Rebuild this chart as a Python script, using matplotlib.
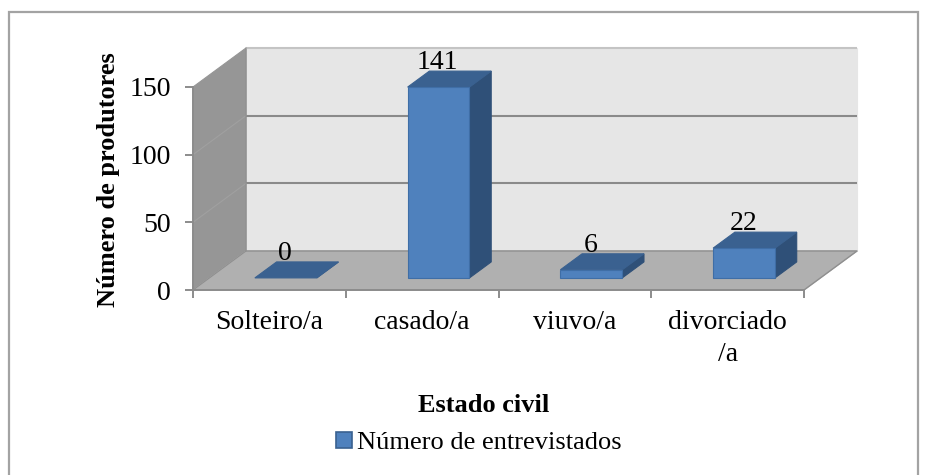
import matplotlib
matplotlib.use('Agg')
import matplotlib.pyplot as plt
from matplotlib.patches import Patch, Rectangle

# Data
categories = ['Solteiro/a', 'casado/a', 'viuvo/a', 'divorciado\n/a']
values = [0, 141, 6, 22]
y_ticks = [0, 50, 100, 150]
series_name = 'Número de entrevistados'

W, H = 927, 475
plt.rcParams['font.family'] = ['Liberation Serif', 'DejaVu Serif']

fig = plt.figure(figsize=(W / 100, H / 100), dpi=100)
fig.patches.append(Rectangle((9 / W, -0.05), 909 / W, 1.05 - 12 / H, transform=fig.transFigure,
                             facecolor='white', edgecolor='#a3a3a3', linewidth=1.6, zorder=-1))

# The axes is the front plane of the fake 3D box
ax = fig.add_axes([193 / W, (H - 290) / H, 611 / W, 203 / H])
ax.set_xlim(0, len(categories))
ax.set_ylim(0, 150)
ax.patch.set_visible(False)

# Depth of the box, in data units
DX = 53 / (611 / 4)
DY = 39 / (203 / 150)


def proj(x, y, d):
    return x + d * DX, y + d * DY


def face(points, color, edge=None, z=1):
    xs, ys = zip(*[proj(*p) for p in points])
    ax.fill(xs, ys, facecolor=color, edgecolor=edge if edge else color, linewidth=0.8,
            clip_on=False, zorder=z)


n = len(categories)
top = y_ticks[-1]

# Walls and floor
face([(0, 0, 1), (n, 0, 1), (n, top, 1), (0, top, 1)], '#e6e6e6', z=1)
face([(0, 0, 0), (0, 0, 1), (0, top, 1), (0, top, 0)], '#969696', z=1)
face([(0, 0, 0), (n, 0, 0), (n, 0, 1), (0, 0, 1)], '#b0b0b0', z=1)

# Gridlines, the top one is much lighter in the original
for t in y_ticks[1:]:
    xs, ys = zip(proj(0, t, 0), proj(0, t, 1), proj(n, t, 1))
    back_color = '#c4c4c4' if t == top else '#8a8a8a'
    ax.plot(xs[1:], ys[1:], color=back_color, linewidth=1.5, clip_on=False, zorder=2,
            solid_capstyle='butt')
    if t != top:
        ax.plot(xs[:2], ys[:2], color='#a0a0a0', linewidth=0.8, clip_on=False, zorder=2)
xs, ys = zip(proj(0, 0, 1), proj(n, 0, 1), proj(n + 0, 0, 0))
ax.plot(xs, ys, color='#8f8f8f', linewidth=1.0, clip_on=False, zorder=2)
xs, ys = zip(proj(0, 0, 0), proj(0, 0, 1), proj(0, top, 1))
ax.plot(xs, ys, color='#8f8f8f', linewidth=0.8, clip_on=False, zorder=2)

# Bars
bar_w = 0.405
d0, d1 = 0.31, 0.72
for i, v in enumerate(values):
    l = i + 0.5 - bar_w / 2
    r = i + 0.5 + bar_w / 2
    face([(r, 0, d0), (r, 0, d1), (r, v, d1), (r, v, d0)], '#2f5078', z=3)
    face([(l, v, d0), (r, v, d0), (r, v, d1), (l, v, d1)], '#3a6190', z=3)
    if v > 0:
        face([(l, 0, d0), (r, 0, d0), (r, v, d0), (l, v, d0)], '#4f81bd', edge='#3f6ea6', z=4)
    lx, ly = proj(i + 0.5, v, d1)
    ax.annotate(str(v), (proj(i + 0.5, v, d0)[0] - 0.006, ly), xytext=(0, -3), textcoords='offset points',
                ha='center', va='bottom', fontsize=20, annotation_clip=False, zorder=5)

# Axes lines and ticks
for side in ['top', 'right']:
    ax.spines[side].set_visible(False)
for side in ['left', 'bottom']:
    ax.spines[side].set_color('#8c8c8c')
    ax.spines[side].set_linewidth(1.4)
    ax.spines[side].set_zorder(6)
ax.set_yticks(y_ticks)
ax.set_xticks(range(n + 1))
ax.set_xticklabels([])
ax.set_xticks([i + 0.5 for i in range(n)], minor=True)
ax.set_xticklabels(categories, minor=True, fontsize=20, linespacing=1.38)
ax.tick_params(axis='x', which='minor', length=0, pad=14.5)
ax.tick_params(axis='x', which='major', length=5.8, width=1.4, color='#8c8c8c')
ax.tick_params(axis='y', length=5.8, width=1.4, color='#8c8c8c', labelsize=20, pad=10)

# Titles and legend
fig.text(484 / W, 1 - 405 / H, 'Estado civil', ha='center', va='center', fontsize=19, fontweight='bold')
fig.text(109 / W, 1 - 180 / H, 'Número de produtores', rotation=90, ha='center', va='center',
         fontsize=19, fontweight='bold')
handle = Patch(facecolor='#4f81bd', edgecolor='#3a6190', linewidth=1.2)
fig.legend([handle], [series_name], loc='center', bbox_to_anchor=(479 / W, 1 - 443 / H), frameon=False,
           fontsize=19, handlelength=0.6, handleheight=0.6, handletextpad=0.2, borderpad=0)

plt.savefig('out.png', dpi=100)
